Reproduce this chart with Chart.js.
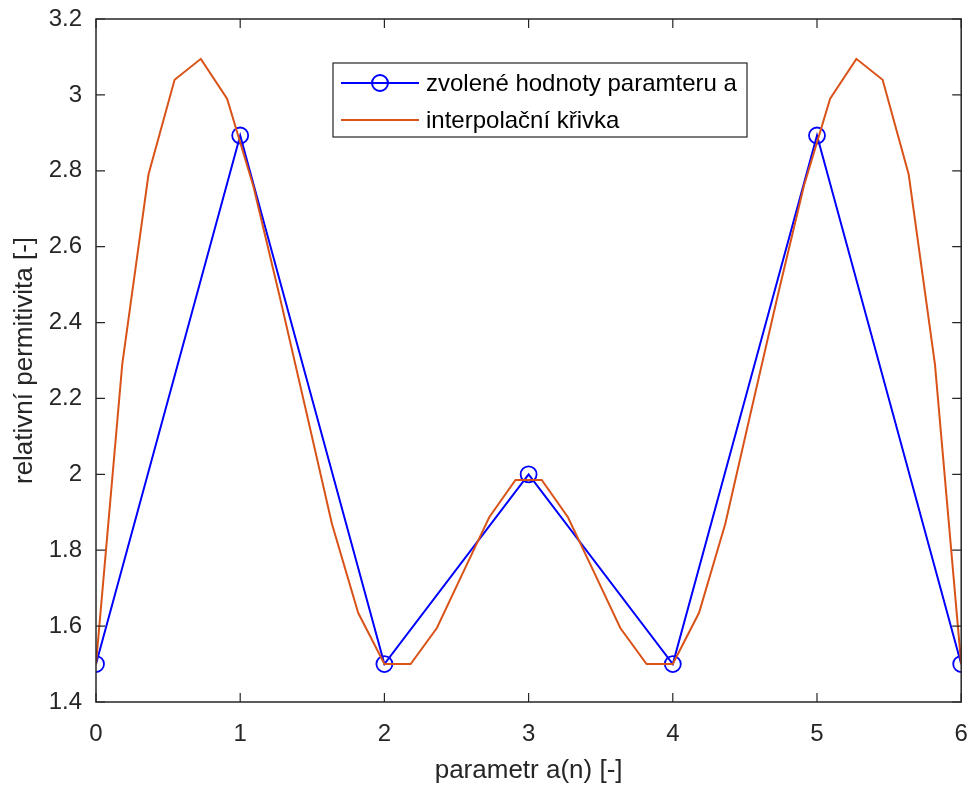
<!DOCTYPE html>
<html>
<head>
<meta charset="utf-8">
<script src="https://cdn.jsdelivr.net/npm/chart.js@4/dist/chart.umd.min.js"></script>
<style>
  body { margin: 0; background: #fff; }
  canvas { display: block; }
</style>
</head>
<body>
<canvas id="myChart" width="971" height="787"></canvas>
<script>
// values
const paramX = [0, 1, 2, 3, 4, 5, 6];
const paramY = [1.5, 2.893, 1.5, 2.0, 1.5, 2.893, 1.5];

const curveX = [0, 0.182, 0.364, 0.545, 0.727, 0.909, 1.091, 1.273, 1.455, 1.636, 1.818,
                2.0, 2.182, 2.364, 2.545, 2.727, 2.909, 3.091, 3.273, 3.455, 3.636, 3.818,
                4.0, 4.182, 4.364, 4.545, 4.727, 4.909, 5.091, 5.273, 5.455, 5.636, 5.818, 6.0];
const curveY = [1.5, 2.29, 2.79, 3.04, 3.095, 2.99, 2.76, 2.47, 2.17, 1.87, 1.635,
                1.5, 1.5, 1.595, 1.741, 1.887, 1.985, 1.985, 1.887, 1.741, 1.595, 1.5,
                1.5, 1.635, 1.87, 2.17, 2.47, 2.76, 2.99, 3.095, 3.04, 2.79, 2.29, 1.5];

const xTicks = [0, 1, 2, 3, 4, 5, 6];
const xTickLabels = ['0', '1', '2', '3', '4', '5', '6'];
const yTicks = [1.4, 1.6, 1.8, 2.0, 2.2, 2.4, 2.6, 2.8, 3.0, 3.2];
const yTickLabels = ['1.4', '1.6', '1.8', '2', '2.2', '2.4', '2.6', '2.8', '3', '3.2'];

const FONT = '"Liberation Sans", Arial, Helvetica, sans-serif';
const AXIS_COLOR = '#262626';

// no extra room for labels that stick out at the ends
function noEdgePadding(s) {
    s.paddingLeft = 0; s.paddingRight = 0;
    s.paddingTop = 0; s.paddingBottom = 0;
}

// box around the plot + inward ticks on all four sides (matlab style)
const boxPlugin = {
    id: 'box',
    afterDraw(chart) {
        const ctx = chart.ctx;
        const a = chart.chartArea;
        const sx = chart.scales.x, sy = chart.scales.y;
        const len = 9;
        ctx.save();
        ctx.strokeStyle = AXIS_COLOR;
        ctx.lineWidth = 1.5;
        ctx.strokeRect(a.left, a.top, a.right - a.left, a.bottom - a.top);
        ctx.lineWidth = 1.2;
        ctx.beginPath();
        xTicks.forEach(v => {
            const px = sx.getPixelForValue(v);
            ctx.moveTo(px, a.bottom); ctx.lineTo(px, a.bottom - len);
            ctx.moveTo(px, a.top); ctx.lineTo(px, a.top + len);
        });
        yTicks.forEach(v => {
            const py = sy.getPixelForValue(v);
            ctx.moveTo(a.left, py); ctx.lineTo(a.left + len, py);
            ctx.moveTo(a.right, py); ctx.lineTo(a.right - len, py);
        });
        ctx.stroke();
        ctx.restore();
    }
};

// legend box inside the axes, top middle
const legendPlugin = {
    id: 'boxLegend',
    afterDraw(chart) {
        const ctx = chart.ctx;
        const left = 333, top = 63, w = 414, h = 74;
        const rowY = [83, 120];
        ctx.save();
        ctx.fillStyle = '#fff';
        ctx.fillRect(left, top, w, h);
        ctx.strokeStyle = AXIS_COLOR;
        ctx.lineWidth = 1.2;
        ctx.strokeRect(left, top, w, h);
        ctx.font = '24px ' + FONT;
        ctx.textBaseline = 'middle';
        chart.data.datasets.forEach((ds, i) => {
            const y = rowY[i];
            ctx.strokeStyle = ds.borderColor;
            ctx.lineWidth = ds.borderWidth;
            ctx.beginPath();
            ctx.moveTo(341, y); ctx.lineTo(419, y);
            ctx.stroke();
            if (ds.pointRadius > 0) {
                ctx.beginPath();
                ctx.arc(380, y, ds.pointRadius, 0, Math.PI * 2);
                ctx.stroke();
            }
            ctx.fillStyle = '#000';
            ctx.fillText(ds.label, 426, y + 1);
        });
        ctx.restore();
    }
};

document.addEventListener('DOMContentLoaded', () => {
    let cv = document.getElementById('myChart').getContext('2d');
    let myChart = new Chart(cv, {
        type: 'line',
        data: {
            datasets: [
                {
                    label: 'zvolené hodnoty paramteru a',
                    data: paramX.map((x, i) => ({x: x, y: paramY[i]})),
                    borderColor: '#0000FF',
                    borderWidth: 2,
                    pointRadius: 8,
                    pointBorderWidth: 1.8,
                    pointBorderColor: '#0000FF',
                    pointBackgroundColor: 'rgba(0,0,0,0)',
                    fill: false,
                    tension: 0,
                    order: 1
                },
                {
                    label: 'interpolační křivka',
                    data: curveX.map((x, i) => ({x: x, y: curveY[i]})),
                    borderColor: '#D95319',
                    borderWidth: 2,
                    pointRadius: 0,
                    fill: false,
                    tension: 0,
                    order: 0
                }
            ]
        },
        options: {
            responsive: false,
            animation: false,
            devicePixelRatio: 1,
            layout: { padding: { top: 19, right: 8, left: 0, bottom: 0 } },
            plugins: {
                legend: { display: false },
                tooltip: { enabled: false }
            },
            scales: {
                x: {
                    type: 'linear',
                    min: 0,
                    max: 6,
                    afterBuildTicks: s => { s.ticks = xTicks.map(v => ({value: v})); },
                    afterFit: s => { s.height = 85; noEdgePadding(s); },
                    grid: { display: false, drawTicks: false },
                    border: { display: false },
                    ticks: {
                        padding: 18,
                        color: AXIS_COLOR,
                        font: { family: FONT, size: 24 },
                        maxRotation: 0,
                        callback: v => xTickLabels[xTicks.indexOf(v)]
                    },
                    title: {
                        display: true,
                        text: 'parametr a(n) [-]',
                        color: AXIS_COLOR,
                        font: { family: FONT, size: 26, lineHeight: 1 },
                        padding: { top: 0, bottom: 3 }
                    }
                },
                y: {
                    type: 'linear',
                    min: 1.4,
                    max: 3.2,
                    afterBuildTicks: s => { s.ticks = yTicks.map(v => ({value: v})); },
                    afterFit: s => { s.width = 96; noEdgePadding(s); },
                    grid: { display: false, drawTicks: false },
                    border: { display: false },
                    ticks: {
                        padding: 14,
                        color: AXIS_COLOR,
                        font: { family: FONT, size: 24 },
                        callback: v => yTickLabels[yTicks.findIndex(t => Math.abs(t - v) < 1e-9)]
                    },
                    title: {
                        display: true,
                        text: 'relativní permitivita [-]',
                        color: AXIS_COLOR,
                        font: { family: FONT, size: 26, lineHeight: 1 },
                        padding: { top: 12, bottom: 0 }
                    }
                }
            }
        },
        plugins: [boxPlugin, legendPlugin]
    });
});
</script>
</body>
</html>
